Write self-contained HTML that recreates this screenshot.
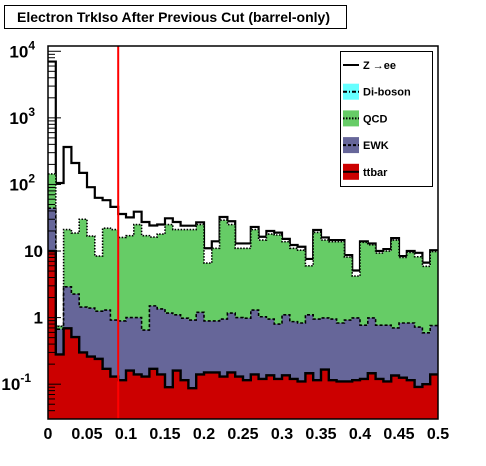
<!DOCTYPE html>
<html><head><meta charset="utf-8"><style>
html,body{margin:0;padding:0;background:#fff;}
svg{display:block;font-family:"Liberation Sans",Arial,sans-serif;}
</style></head><body>
<svg id="c" width="486" height="466" viewBox="0 0 486 466">
<rect x="0" y="0" width="486" height="466" fill="#fff"/>
<rect x="4.5" y="5.5" width="342" height="23" fill="#fff" stroke="#000" stroke-width="1"/>
<text x="17" y="22" font-size="14" font-weight="bold">Electron TrkIso After Previous Cut (barrel-only)</text>
<g id="plot"></g>
<g id="axes"></g>
<g id="legend"></g>
</svg>
<script>
// Stacked cumulative heights per bin (0..0.5, 50 bins)
const binEdges0 = 0, binWidth = 0.01;
const ttbarStack = [10,0.28,0.69,0.51,0.30,0.26,0.24,0.17,0.13,0.115,0.16,0.14,0.13,0.17,0.14,0.09,0.16,0.115,0.087,0.14,0.15,0.15,0.13,0.15,0.13,0.115,0.14,0.12,0.136,0.12,0.136,0.12,0.11,0.146,0.115,0.166,0.115,0.11,0.11,0.115,0.12,0.146,0.12,0.11,0.135,0.125,0.115,0.091,0.1,0.14];
const ewkStack = [44,0.67,2.9,2.26,1.44,1.39,1.25,1.3,0.92,0.89,1.0,1.0,0.65,1.5,1.35,1.17,1.1,0.98,0.92,1.2,0.89,0.89,0.95,1.17,1.0,0.98,1.3,1.03,0.95,0.8,1.1,0.87,0.83,1.1,0.95,0.99,0.95,0.83,0.92,0.99,0.77,0.99,0.77,0.77,0.7,0.83,0.83,0.72,0.59,0.76];
const dibosonStack = [44,0.74,2.9,2.26,1.44,1.39,1.25,1.3,0.92,0.89,1.0,1.0,0.65,1.5,1.35,1.17,1.1,0.98,0.92,1.2,0.89,0.89,0.95,1.17,1.0,0.98,1.3,1.03,0.95,0.8,1.1,0.87,0.83,1.1,0.95,0.99,0.95,0.83,0.92,0.99,0.77,0.99,0.77,0.77,0.7,0.83,0.83,0.72,0.59,0.76];
const qcdStack = [144,0.74,21,18.6,30,16.8,8.4,22,21,16,17,25,17,16.2,18,25,21,21,21,25,6.6,11,29,25,11,11,21,14.6,18,17.4,13.8,11,10.3,6,19,14.6,13.8,13.8,8.1,4.2,13.5,12.4,9.3,10,14.6,8,9.5,8.2,5.9,9.8];
const totalStack = [7000,105,365,210,149,91,63,58,46,36,32,39,27.3,24.2,25,31,27.3,24,24,27,11,14,32.4,28,13,13,23,16.4,20,18.9,15.2,12.3,11.6,7.6,20.7,16,14.6,14.6,8.7,5.1,14,13,10,10.7,15.6,8.4,10,9.4,6.7,10.3];
const xTickLabels = ["0","0.05","0.1","0.15","0.2","0.25","0.3","0.35","0.4","0.45","0.5"];
const yDecades = [-1,0,1,2,3,4];
const cutValue = 0.09;

const NS="http://www.w3.org/2000/svg";
const X0=48,X1=438,Y0=419,Y1=46;
const xMin=0,xMax=0.5;
const logMin=Math.log10(0.03),logMax=Math.log10(12000);
function xs(v){return X0+(v-xMin)/(xMax-xMin)*(X1-X0);}
function ys(v){const l=Math.log10(Math.max(v,0.03));return Y0-(l-logMin)/(logMax-logMin)*(Y0-Y1);}
function mk(tag,attrs,parent){const e=document.createElementNS(NS,tag);for(const k in attrs)e.setAttribute(k,attrs[k]);parent.appendChild(e);return e;}
const plot=document.getElementById('plot');
function stepPath(arr){let d="M"+xs(0)+","+Y0;for(let i=0;i<arr.length;i++){const xa=xs(binEdges0+i*binWidth),xb=xs(binEdges0+(i+1)*binWidth),y=ys(arr[i]);d+=" L"+xa+","+y+" L"+xb+","+y;}d+=" L"+xs(xMax)+","+Y0+" Z";return d;}
function stepLine(arr){let d="";for(let i=0;i<arr.length;i++){const xa=xs(binEdges0+i*binWidth),xb=xs(binEdges0+(i+1)*binWidth),y=ys(arr[i]);d+=(i?" L":"M")+xa+","+y+" L"+xb+","+y;}return d;}
const series=[
 {arr:totalStack,fill:"#fff",dash:"",w:2.2,name:"zee"},
 {arr:dibosonStack,fill:"#66ffff",dash:"4,2,1,2",w:1.5,name:"diboson"},
 {arr:qcdStack,fill:"#66cc66",dash:"1.5,1.5",w:1.6,name:"qcd"},
 {arr:ewkStack,fill:"#666699",dash:"3,2",w:1.6,name:"ewk"},
 {arr:ttbarStack,fill:"#cc0000",dash:"",w:2.4,name:"ttbar"}];
for(const s of series){
 const a=mk('path',{d:stepPath(s.arr),fill:s.fill,stroke:"none"},plot);
 
 
 const l=mk('path',{d:stepLine(s.arr),fill:"none",stroke:"#000","stroke-width":s.w,"stroke-dasharray":s.dash},plot);
 
 
}
const cut=mk('line',{x1:xs(cutValue),x2:xs(cutValue),y1:Y1,y2:Y0,stroke:"#ff0000","stroke-width":2},plot);


const axes=document.getElementById('axes');
const fr=mk('rect',{x:X0,y:Y1,width:X1-X0,height:Y0-Y1,fill:"none",stroke:"#000","stroke-width":1.5},axes);


for(let d=-2;d<=4;d++){for(let m=1;m<10;m++){const v=m*Math.pow(10,d);if(v<0.03||v>12000)continue;const y=ys(v);
 const t=mk('line',{x1:X0,x2:X0+(m==1?13:7),y1:y,y2:y,stroke:"#000","stroke-width":1},axes);
 
 }}
for(const d of yDecades){const y=ys(Math.pow(10,d));
 const t=mk('text',{x:X0-5,y:y+6,"text-anchor":"end","font-size":"17","font-weight":"bold"},axes);
 
 
 if(d>=2||d<0){t.textContent="10";const s=mk('tspan',{dy:-8,"font-size":"12"},t);s.textContent=String(d);}
 else t.textContent=d==1?"10":"1";
 if(d>=2||d<0){t.setAttribute('x',X0-5-(d<0?12:8));}
}
xTickLabels.forEach((lab,i)=>{const v=parseFloat(lab);
 const t=mk('text',{x:xs(v),y:439,"text-anchor":"middle","font-size":"16","font-weight":"bold"},axes);
 
 
 t.textContent=lab;});
const lg=document.getElementById('legend');
mk('rect',{x:340.5,y:51.5,width:92,height:135,fill:"#fff",stroke:"#000","stroke-width":1},lg);
const legendNames=["Z \u2192ee","Di-boson","QCD","EWK","ttbar"];
const legendFill=[null,"#66ffff","#66cc66","#666699","#cc0000"];
const legendDash=["","4,2,1,2","1.5,1.5","3,2",""];
legendNames.forEach((n,i)=>{const y=65+i*26.7;
 const g=mk('g',{},lg);
 
 
 if(legendFill[i])mk('rect',{x:343,y:y-8,width:16,height:16,fill:legendFill[i]},g);
 mk('line',{x1:343,x2:359,y1:y,y2:y,stroke:"#000","stroke-width":2,"stroke-dasharray":legendDash[i]},g);
 const t=mk('text',{x:363,y:y+4,"font-size":"11","font-weight":"bold"},g);t.textContent=n;});
</script>
</body></html>
